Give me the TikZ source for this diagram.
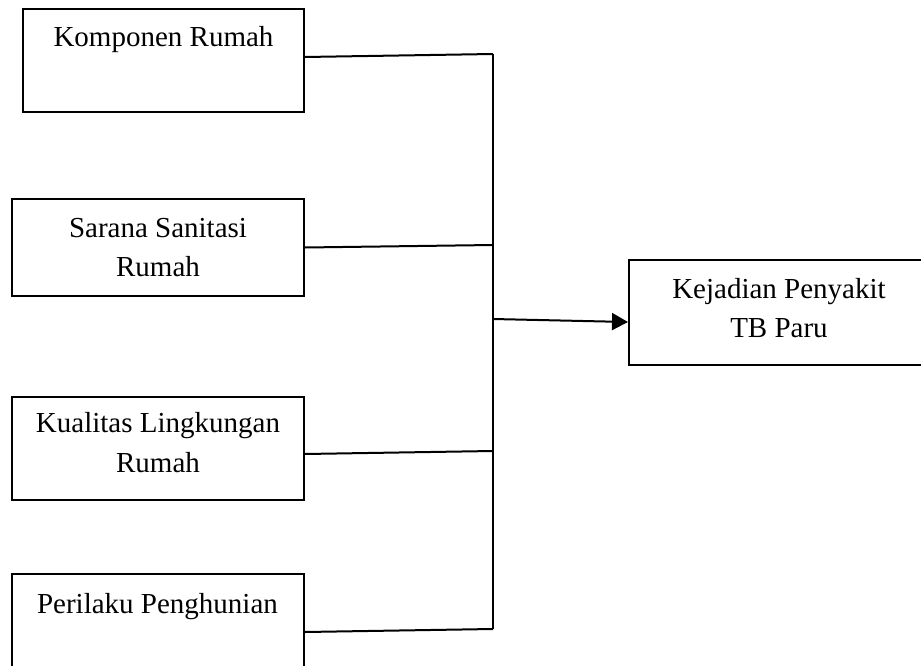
\documentclass[tikz,border=0pt]{standalone}
\usepackage{fontspec}
\setmainfont{Liberation Serif}
\usetikzlibrary{arrows.meta}
\begin{document}
\begin{tikzpicture}[x=1pt,y=-1pt,
  boxstyle/.style={draw, line width=2pt, inner sep=0pt, rectangle},
  labelstyle/.style={anchor=base, align=center, inner sep=0pt, font=\fontsize{29}{39.5}\selectfont},
  wire/.style={line width=2pt}]
\useasboundingbox (0,0) rectangle (921,666);
% boxes
\node[boxstyle, minimum width=281pt, minimum height=103pt] (b1) at (163.5,60.5) {};
\node[boxstyle, minimum width=292pt, minimum height=97pt] (b2) at (158,247.5) {};
\node[boxstyle, minimum width=292pt, minimum height=103pt] (b3) at (158,448.5) {};
\node[boxstyle, minimum width=292pt, minimum height=116pt] (b4) at (158,632) {};
\node[boxstyle, minimum width=296pt, minimum height=105pt] (b5) at (777,312.5) {};
% texts (base anchor = baseline of last line)
\node[labelstyle] (t1) at (163.5,47) {Komponen Rumah};
\node[labelstyle] (t2) at (158,276.5) {Sarana Sanitasi\\Rumah};
\node[labelstyle] (t3) at (158,472) {Kualitas Lingkungan\\Rumah};
\node[labelstyle] (t4) at (157.5,613) {Perilaku Penghunian};
\node[labelstyle] (t5) at (779,337.5) {Kejadian Penyakit\\TB Paru};
% junctions
\coordinate (j1) at (493,54);
\coordinate (j2) at (493,245);
\coordinate (jm) at (493,319);
\coordinate (j3) at (493,451);
\coordinate (j4) at (493,629);
% connectors
\draw[wire] ([yshift=3.5pt]b1.east) -- (j1);
\draw[wire] (b2.east) -- (j2);
\draw[wire] ([yshift=-5.5pt]b3.east) -- (j3);
\draw[wire] (b4.east) -- (j4);
\draw[wire] (j1) -- (j4);
\draw[wire, -{Triangle[length=16pt,width=17pt]}] (jm) -- ([yshift=-9.5pt]b5.west);
\end{tikzpicture}
\end{document}
